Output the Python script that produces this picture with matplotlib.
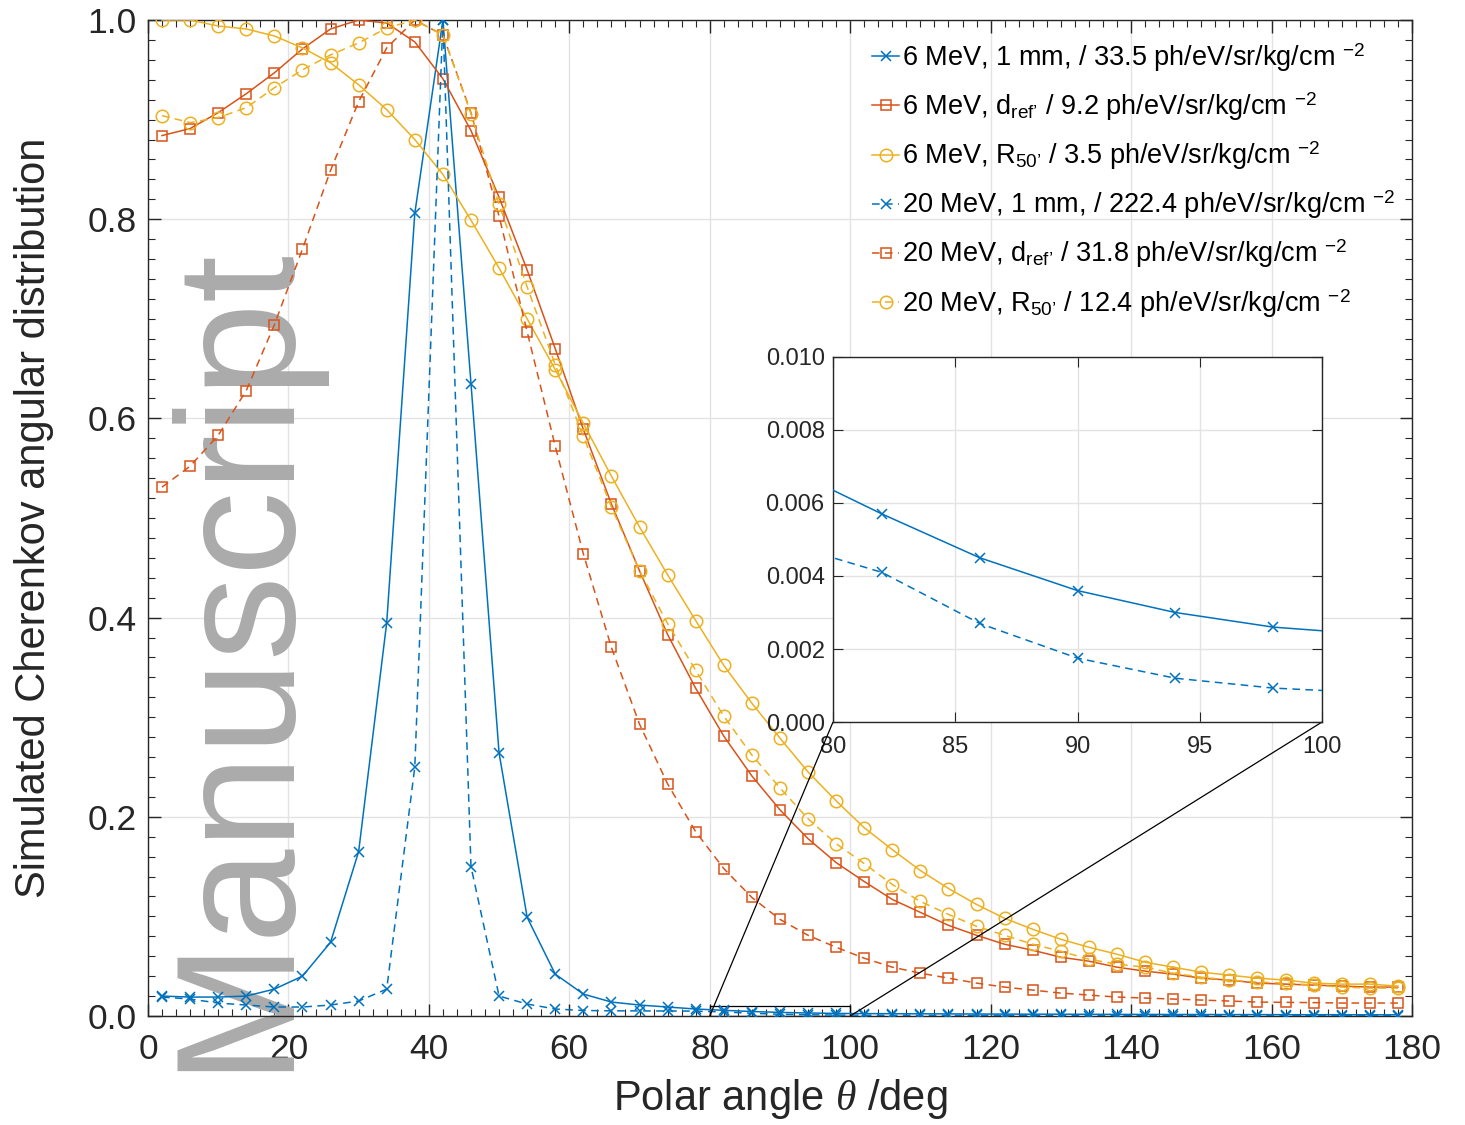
import matplotlib
matplotlib.use("Agg")
import matplotlib.pyplot as plt
from matplotlib.ticker import MultipleLocator, FormatStrFormatter
from mpl_toolkits.axes_grid1.inset_locator import mark_inset

plt.rcParams['font.family'] = ['Liberation Sans', 'DejaVu Sans']
plt.rcParams['mathtext.fontset'] = 'custom'
plt.rcParams['mathtext.rm'] = 'Liberation Sans'
plt.rcParams['mathtext.it'] = 'Liberation Serif:italic'

# polar angle (deg), one point every 4 deg
theta = list(range(2, 180, 4))

mev6_1mm = [0.020, 0.019, 0.019, 0.020, 0.027, 0.040, 0.074, 0.165, 0.395, 0.806,
            1.000, 0.635, 0.264, 0.099, 0.042, 0.022, 0.014, 0.011, 0.009, 0.0070,
            0.0057, 0.0045, 0.0036, 0.0030, 0.0026, 0.0024, 0.0023, 0.0022, 0.0021, 0.0020,
            0.0019, 0.0018, 0.0018, 0.0017, 0.0016, 0.0016, 0.0015, 0.0015, 0.0014, 0.0014,
            0.0013, 0.0013, 0.0013, 0.0012, 0.0012]
mev6_dref = [0.884, 0.891, 0.907, 0.926, 0.947, 0.971, 0.991, 1.000, 0.997, 0.978,
             0.941, 0.889, 0.822, 0.749, 0.670, 0.589, 0.514, 0.447, 0.383, 0.329,
             0.281, 0.241, 0.207, 0.178, 0.154, 0.135, 0.117, 0.104, 0.091, 0.081,
             0.072, 0.066, 0.059, 0.055, 0.049, 0.045, 0.042, 0.038, 0.036, 0.033,
             0.032, 0.031, 0.030, 0.029, 0.029]
mev6_r50 = [1.000, 1.000, 0.994, 0.991, 0.984, 0.972, 0.957, 0.935, 0.910, 0.880,
            0.845, 0.799, 0.751, 0.700, 0.649, 0.595, 0.542, 0.491, 0.443, 0.397,
            0.352, 0.314, 0.279, 0.245, 0.216, 0.189, 0.167, 0.146, 0.128, 0.112,
            0.098, 0.087, 0.077, 0.069, 0.062, 0.054, 0.049, 0.044, 0.041, 0.038,
            0.036, 0.033, 0.032, 0.032, 0.030]
mev20_1mm = [0.019, 0.017, 0.013, 0.011, 0.009, 0.009, 0.011, 0.015, 0.027, 0.250,
             1.000, 0.150, 0.020, 0.012, 0.007, 0.0055, 0.0052, 0.0051, 0.0050, 0.0049,
             0.0041, 0.0027, 0.00175, 0.0012, 0.00093, 0.0008, 0.0007, 0.00065, 0.0006, 0.00058,
             0.00055, 0.00052, 0.0005, 0.00048, 0.00046, 0.00045, 0.00044, 0.00043, 0.00042, 0.00041,
             0.0004, 0.0004, 0.0004, 0.0004, 0.0004]
mev20_dref = [0.531, 0.552, 0.583, 0.628, 0.694, 0.770, 0.849, 0.918, 0.972, 1.000,
              0.985, 0.907, 0.803, 0.687, 0.572, 0.464, 0.370, 0.293, 0.233, 0.185,
              0.148, 0.119, 0.097, 0.081, 0.069, 0.058, 0.049, 0.043, 0.038, 0.033,
              0.029, 0.026, 0.023, 0.021, 0.019, 0.018, 0.017, 0.016, 0.015, 0.014,
              0.0137, 0.0134, 0.013, 0.013, 0.013]
mev20_r50 = [0.904, 0.897, 0.902, 0.912, 0.932, 0.950, 0.965, 0.977, 0.992, 1.000,
             0.985, 0.906, 0.815, 0.732, 0.654, 0.582, 0.511, 0.447, 0.394, 0.347,
             0.301, 0.262, 0.229, 0.198, 0.173, 0.153, 0.132, 0.115, 0.102, 0.090,
             0.081, 0.072, 0.065, 0.057, 0.052, 0.049, 0.043, 0.039, 0.036, 0.034,
             0.033, 0.031, 0.029, 0.028, 0.028]

labels = [
    r'6 MeV, 1 mm, / 33.5 ph/eV/sr/kg/cm $^{-2}$',
    r'6 MeV, d$_{\mathrm{ref’}}$ / 9.2 ph/eV/sr/kg/cm $^{-2}$',
    r'6 MeV, R$_{\mathrm{50’}}$ / 3.5 ph/eV/sr/kg/cm $^{-2}$',
    r'20 MeV, 1 mm, / 222.4 ph/eV/sr/kg/cm $^{-2}$',
    r'20 MeV, d$_{\mathrm{ref’}}$ / 31.8 ph/eV/sr/kg/cm $^{-2}$',
    r'20 MeV, R$_{\mathrm{50’}}$ / 12.4 ph/eV/sr/kg/cm $^{-2}$',
]

blue, orange, yellow = '#0072BD', '#D95319', '#EDB120'
series = [
    (mev6_1mm, blue, '-', 'x'),
    (mev6_dref, orange, '-', 's'),
    (mev6_r50, yellow, '-', 'o'),
    (mev20_1mm, blue, '--', 'x'),
    (mev20_dref, orange, '--', 's'),
    (mev20_r50, yellow, '--', 'o'),
]
msize = {'x': 7, 's': 7.5, 'o': 9}

fig = plt.figure(figsize=(14.65, 11.25), dpi=100)
ax = fig.add_axes([0.1010, 0.0969, 0.8628, 0.8853])

# watermark, mostly off the bottom of the figure
ax.text(0.2014, 0.7733, 'Accepted Manuscript', transform=fig.transFigure,
        rotation=90, rotation_mode='anchor', ha='right', va='baseline',
        fontsize=122, color='#ababab', zorder=1, clip_on=False)

def draw(a):
    for (vals, col, ls, mk), lab in zip(series, labels):
        dash = (0, (5, 3.5)) if ls == '--' else '-'
        a.plot(theta, vals, color=col, linestyle=dash, lw=1.1, marker=mk,
               ms=msize[mk], mfc='none', mew=1.1, label=lab, zorder=3)

draw(ax)
ax.set_xlim(0, 180)
ax.set_ylim(0, 1)
ax.xaxis.set_major_locator(MultipleLocator(20))
ax.xaxis.set_minor_locator(MultipleLocator(2))
ax.yaxis.set_major_locator(MultipleLocator(0.2))
ax.yaxis.set_minor_locator(MultipleLocator(0.02))
ax.yaxis.set_major_formatter(FormatStrFormatter('%.1f'))
ax.grid(True, which='major', color='#e3e3e3', lw=1.0, zorder=0)
ax.set_axisbelow(True)
ax.tick_params(which='both', direction='in', top=True, right=True,
               colors='#262626', labelsize=25.5)
ax.tick_params(which='major', length=9, width=1.0)
ax.tick_params(axis='x', which='major', pad=12)
ax.tick_params(axis='y', which='major', pad=8)
ax.tick_params(which='minor', length=5, width=0.8)
for s in ax.spines.values():
    s.set_color('#262626')
    s.set_linewidth(1.0)
ax.set_xlabel(r'Polar angle $\theta$ /deg', fontsize=30, color='#262626', labelpad=8)
ax.set_ylabel('Simulated Cherenkov angular distribution', fontsize=30, color='#262626', labelpad=24)

leg = ax.legend(loc='upper right', bbox_to_anchor=(1.0, 0.995), frameon=False,
                fontsize=19.5, handlelength=1.0, handletextpad=0.12,
                labelspacing=0.62, borderaxespad=0.2)

# inset zoom on 80-100 deg
axins = fig.add_axes([0.5686, 0.3582, 0.3338, 0.3245])
axins.set_facecolor('white')
draw(axins)
axins.set_xlim(80, 100)
axins.set_ylim(0, 0.01)
axins.xaxis.set_major_locator(MultipleLocator(5))
axins.yaxis.set_major_locator(MultipleLocator(0.002))
axins.yaxis.set_major_formatter(FormatStrFormatter('%.3f'))
axins.grid(True, color='#e3e3e3', lw=1.0)
axins.set_axisbelow(True)
axins.tick_params(direction='in', top=True, right=True, colors='#262626',
                  labelsize=17, length=7)
axins.tick_params(axis='x', pad=10)
axins.tick_params(axis='y', pad=6)
for s in axins.spines.values():
    s.set_color('#262626')
    s.set_linewidth(1.0)

mark_inset(ax, axins, loc1=3, loc2=4, fc='none', ec='black', lw=0.9)

fig.savefig('out.png', dpi=100)
